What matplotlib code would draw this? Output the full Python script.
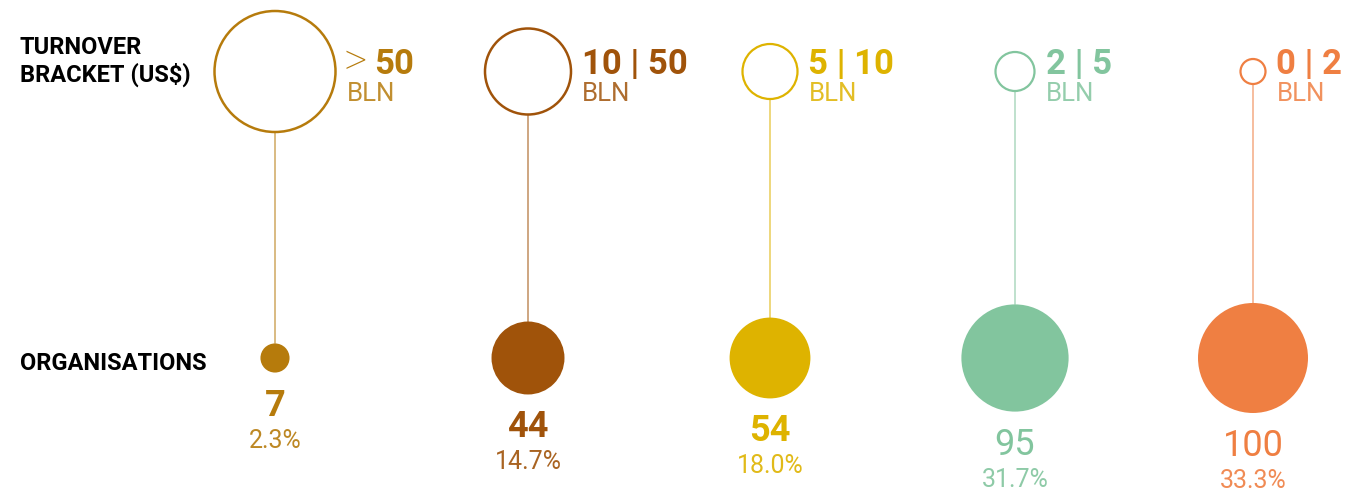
import numpy as np
import matplotlib.pyplot as plt
from matplotlib.patches import Circle

plt.rcParams['font.family'] = ['Roboto', 'DejaVu Sans']

# data
brackets = ['> 50', '10 | 50', '5 | 10', '2 | 5', '0 | 2']
organisations = [7, 44, 54, 95, 100]
shares = [2.3, 14.7, 18.0, 31.7, 33.3]
colors = ['#B67B0C', '#A0530A', '#DEB300', '#82C59E', '#EF7F42']

# layout (pixel units)
xpos = [275, 528, 770, 1015, 1253]
top_r = [60.5, 43, 27.5, 19.5, 12.5]
top_y = 71.5
bot_y = 358
scale = 5.5  # radius = scale * sqrt(count)

fig = plt.figure(figsize=(13.51, 4.91), dpi=100)
ax = fig.add_axes([0, 0, 1, 1])
ax.set_xlim(0, 1351)
ax.set_ylim(491, 0)
ax.axis('off')

ax.text(20, 54, 'TURNOVER', fontsize=17, fontweight='bold', color='black', va='baseline')
ax.text(20, 82, 'BRACKET (US$)', fontsize=17, fontweight='bold', color='black', va='baseline')
ax.text(20, 370, 'ORGANISATIONS', fontsize=17, fontweight='bold', color='black', va='baseline')

for i in range(len(brackets)):
    x = xpos[i]
    c = colors[i]
    r1 = top_r[i]
    r2 = scale * np.sqrt(organisations[i])

    lw = 1.8 if r1 > 30 else 1.6
    ax.add_patch(Circle((x, top_y), r1, facecolor='white', edgecolor=c, lw=lw, zorder=3))
    ax.plot([x, x], [top_y + r1, bot_y - r2], color=c, lw=1.1, alpha=0.65, zorder=1)
    ax.add_patch(Circle((x, bot_y), r2, facecolor=c, edgecolor='none', zorder=3))

    # bracket label
    lx = x + r1 + 11
    lab = brackets[i]
    if lab.startswith('>'):
        ax.text(lx - 3, 75, '>', fontsize=33, fontweight='light', color=c, va='baseline')
        ax.text(lx + 28, 74, lab[1:].strip(), fontsize=25, fontweight='bold', color=c, va='baseline')
    else:
        ax.text(lx, 74, lab, fontsize=25, fontweight='bold', color=c, va='baseline')
    ax.text(lx, 101, 'BLN', fontsize=18.5, fontweight='normal', color=c, alpha=0.85, va='baseline')

    # counts
    nb = bot_y + r2 + 43
    wt = 'bold' if i < 3 else 'normal'
    ax.text(x, nb, str(organisations[i]), fontsize=26, fontweight=wt, color=c,
            ha='center', va='baseline')
    ax.text(x, nb + 32, f'{shares[i]:.1f}%', fontsize=18, fontweight='normal', color=c,
            alpha=0.9, ha='center', va='baseline')

fig.savefig('out.png', dpi=100, facecolor='white')
